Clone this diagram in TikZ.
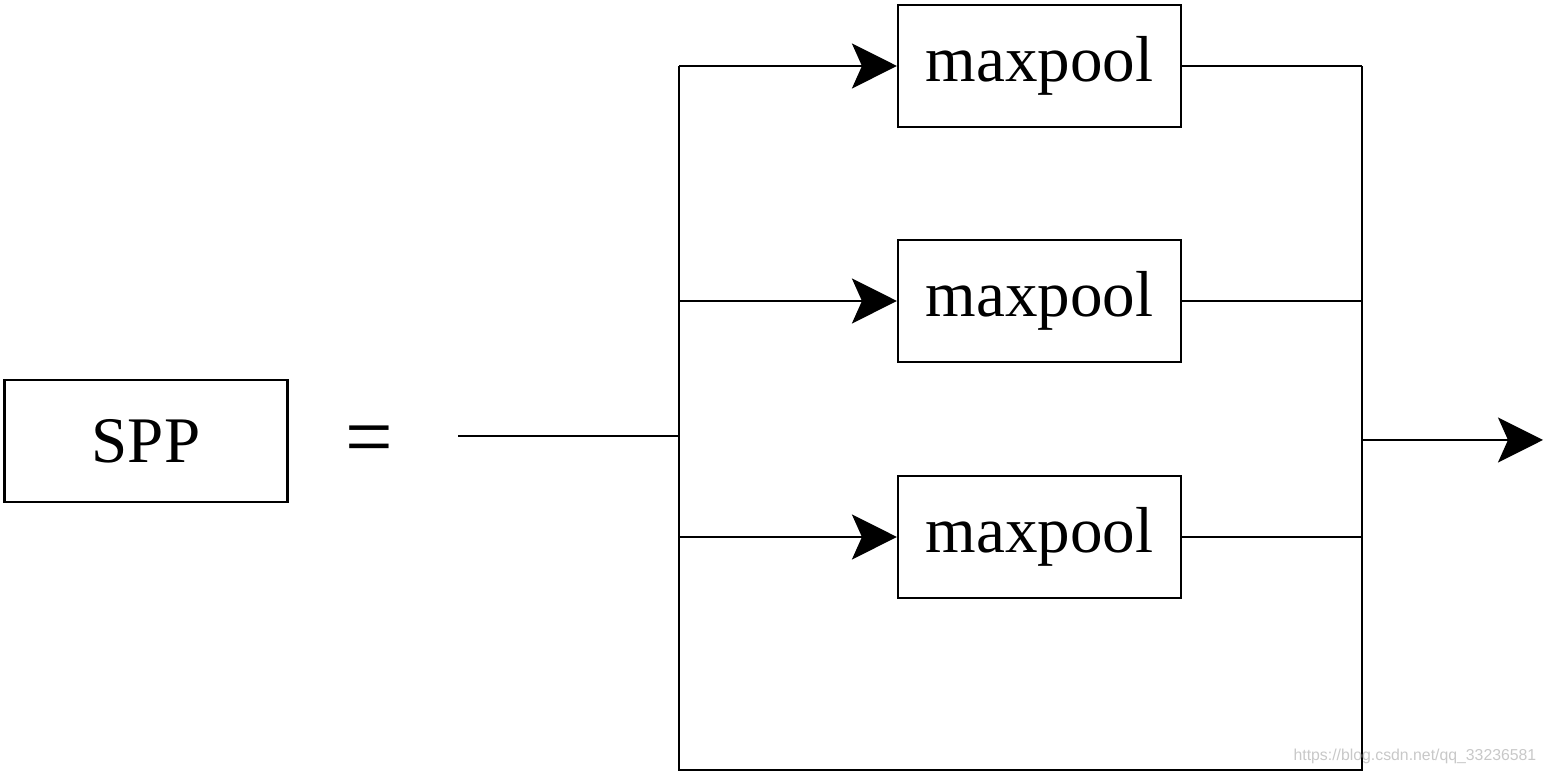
\documentclass[tikz,border=0pt]{standalone}
\usepackage{fontspec}
\setmainfont{Liberation Serif}
\newfontfamily\markfont{Liberation Sans}
\usetikzlibrary{arrows.meta}
\definecolor{markgray}{HTML}{C8C8C8}

\tikzset{
  block/.style={draw,line width=0.6pt,minimum width=2.83cm,minimum height=1.22cm,inner sep=0pt,font=\fontsize{18.5}{22}\selectfont},
  wire/.style={line width=0.6pt},
  feed/.style={wire,-{Stealth[length=0.45cm,width=0.45cm,inset=0.1cm]}}
}

\begin{document}
\begin{tikzpicture}
  \useasboundingbox (0,0) rectangle (15.44,-7.75);

  % left side
  \node[block] (spp) at (1.46,-4.41) {SPP};
  \node[font=\fontsize{18.5}{22}\selectfont,inner sep=0pt] (eq) at (3.69,-4.47) {\scalebox{1.3}[1.4]{=}};
  \coordinate (in) at (4.58,-4.36);
  \coordinate (split) at (6.79,-4.36);

  % the three pooling blocks
  \node[block] (pool1) at (10.395,-0.66) {maxpool};
  \node[block] (pool2) at (10.395,-3.01) {maxpool};
  \node[block] (pool3) at (10.395,-5.37) {maxpool};

  % frame of the skip path
  \coordinate (tl) at (6.79,-0.66);
  \coordinate (bl) at (6.79,-7.70);
  \coordinate (br) at (13.62,-7.70);
  \coordinate (tr) at (13.62,-0.66);
  \coordinate (join) at (13.62,-4.40);
  \coordinate (out) at (15.43,-4.40);

  \draw[wire] (in) -- (split);
  \draw[wire] (tl) -- (bl) -- (br) -- (tr);

  \draw[feed] (tl) -- (pool1.west);
  \draw[feed] (bl |- pool2.west) -- (pool2.west);
  \draw[feed] (bl |- pool3.west) -- (pool3.west);

  \draw[wire] (pool1.east) -- (tr);
  \draw[wire] (pool2.east) -- (br |- pool2.east);
  \draw[wire] (pool3.east) -- (br |- pool3.east);

  \draw[feed] (join) -- (out);

  \node[anchor=east,text=markgray,font=\markfont\fontsize{4.5}{5}\selectfont,inner sep=0pt] (mark) at (15.37,-7.56) {https://blog.csdn.net/qq\_33236581};
\end{tikzpicture}
\end{document}
